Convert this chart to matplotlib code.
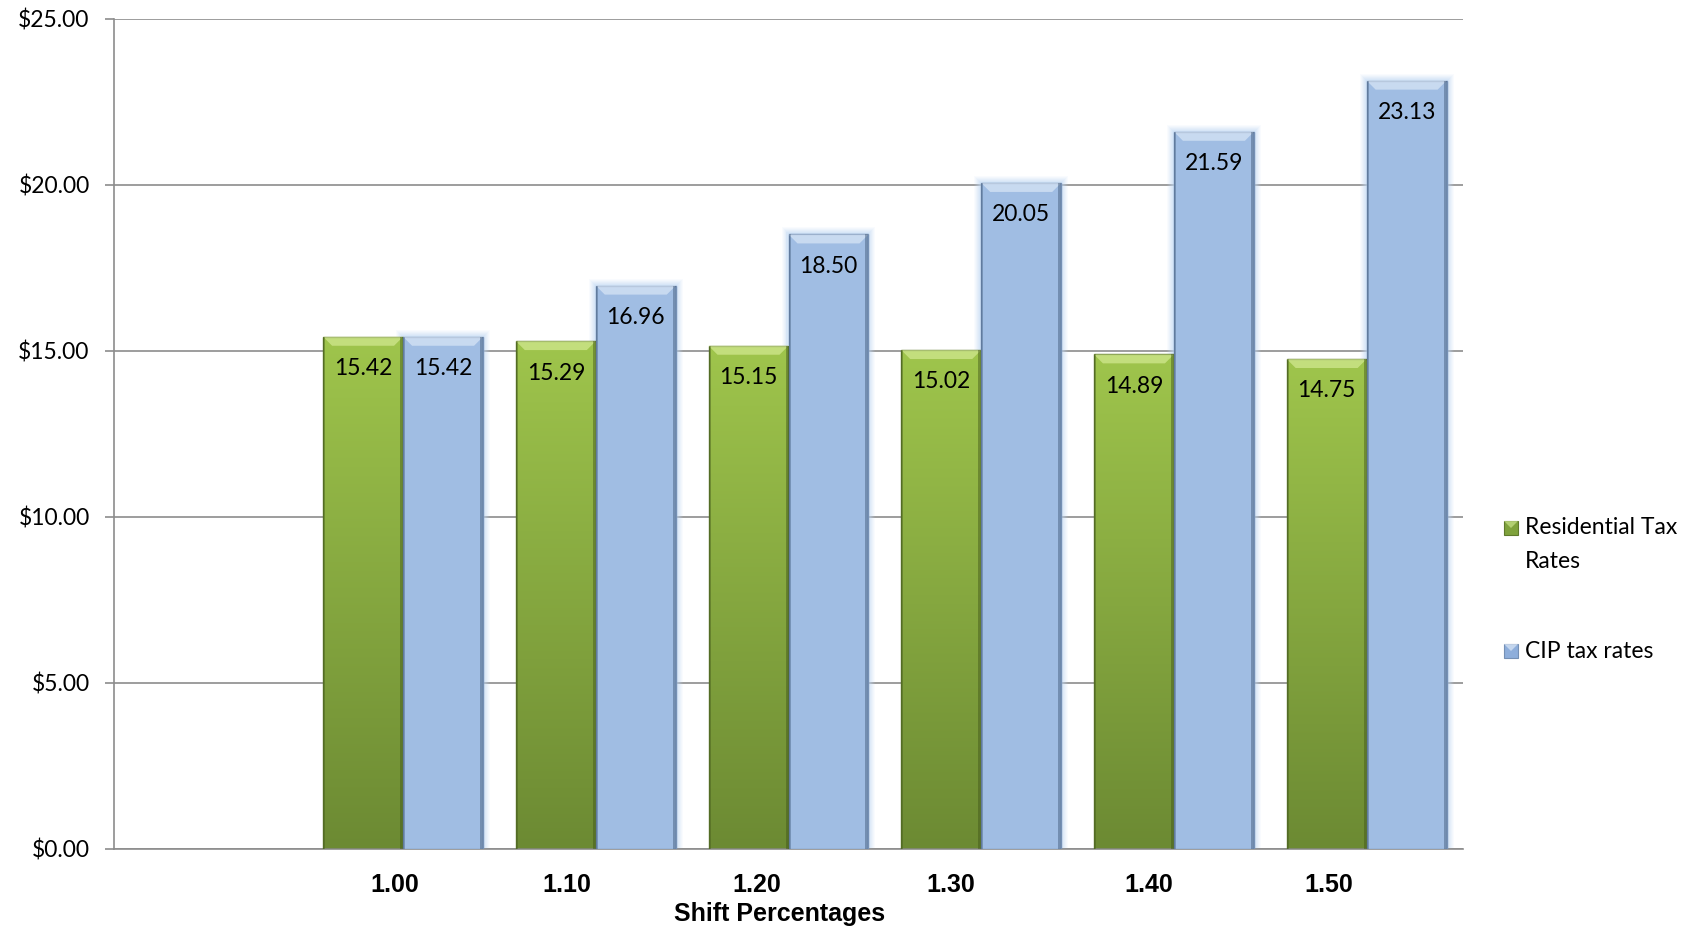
import numpy as np
import matplotlib
matplotlib.use("Agg")
import matplotlib.pyplot as plt
from matplotlib.patches import Rectangle, Polygon
from matplotlib.colors import LinearSegmentedColormap
from matplotlib.transforms import ScaledTranslation

# ---- data -------------------------------------------------------------
categories = ["", "1.00", "1.10", "1.20", "1.30", "1.40", "1.50"]
residential = [np.nan, 15.42, 15.29, 15.15, 15.02, 14.89, 14.75]
cip = [np.nan, 15.42, 16.96, 18.50, 20.05, 21.59, 23.13]
yticks = [0, 5, 10, 15, 20, 25]

GREEN_TOP = "#9FC54C"
GREEN_BOT = "#6C8A33"
GREEN_EDGE = "#5F7A2C"
BLUE = "#A0BDE3"
BLUE_EDGE = "#7590B5"
GLOW = "#BFD8F4"

W, H = 1702, 931
fig = plt.figure(figsize=(W / 100, H / 100), dpi=100)
left, right, bottom, top = 114 / W, 1463 / W, 1 - 849 / H, 1 - 18.5 / H
ax = fig.add_axes([left, bottom, right - left, top - bottom])

x = np.arange(len(categories))
bw = 0.415
xlim = (-0.5, len(categories) - 0.5)
ylim = (0, 25)
ax.set_xlim(*xlim)
ax.set_ylim(*ylim)

# pixel -> data scale, used for the bevel and glow sizes
px_x = (xlim[1] - xlim[0]) / (right - left) / W
px_y = (ylim[1] - ylim[0]) / (top - bottom) / H

green_cmap = LinearSegmentedColormap.from_list("g", [GREEN_BOT, GREEN_TOP])
grad = np.linspace(0, 1, 256).reshape(-1, 1)


def bevel(ax, x0, w, h, light, dark):
    """Lighter sloped band at the top of a bar plus dark side strips."""
    bx, by = 9 * px_x, 9 * px_y
    ax.add_patch(Polygon([(x0, h), (x0 + w, h), (x0 + w - bx, h - by),
                          (x0 + bx, h - by)], closed=True,
                         facecolor=light, edgecolor="none", alpha=0.6, zorder=4))
    ax.add_patch(Rectangle((x0, 0), 2 * px_x, h, facecolor=dark,
                           edgecolor="none", alpha=0.35, zorder=4))
    ax.add_patch(Rectangle((x0 + w - 3 * px_x, 0), 3 * px_x, h, facecolor=dark,
                           edgecolor="none", alpha=0.45, zorder=4))


ax.set_axisbelow(True)
ax.yaxis.grid(True, color="#8C8C8C", linewidth=1.2)

for xi, g, c in zip(x, residential, cip):
    if np.isnan(g):
        continue
    # residential: vertical gradient clipped to the bar
    gx = xi - bw
    rect = Rectangle((gx, 0), bw, g, facecolor="none", edgecolor=GREEN_EDGE,
                     linewidth=1.0, zorder=3)
    ax.add_patch(rect)
    im = ax.imshow(grad, cmap=green_cmap, origin="lower", aspect="auto",
                   extent=[gx, gx + bw, 0, g], zorder=2)
    im.set_clip_path(rect)
    bevel(ax, gx, bw, g, "#DDF0A0", "#3F5418")

    # CIP: flat blue with soft glow around it
    cx = xi
    for k, a in zip(range(7, 0, -1), [0.08, 0.1, 0.12, 0.15, 0.18, 0.22, 0.3]):
        ax.add_patch(Rectangle((cx - k * px_x, 0), bw + 2 * k * px_x,
                               c + k * px_y, facecolor=GLOW, edgecolor="none",
                               alpha=a, zorder=1.5))
    ax.add_patch(Rectangle((cx, 0), bw, c, facecolor=BLUE, edgecolor=BLUE_EDGE,
                           linewidth=1.0, zorder=3))
    bevel(ax, cx, bw, c, "#E4EEFA", "#3E5675")

    for bx_, v in ((gx, g), (cx, c)):
        ax.annotate(f"{v:.2f}", (bx_ + bw / 2, v), xytext=(0, -23),
                    textcoords="offset points", ha="center", va="center",
                    fontsize=16.5, family="Lato", color="black", zorder=6)

ax.set_xticks(x)
ax.set_xticklabels(categories, fontsize=18, fontweight="bold",
                   family="Liberation Sans")
ax.tick_params(axis="x", length=0, pad=17)
# category labels sit a little left of the bar groups
label_shift_pt = [0, -6, -21, -23, -22, -18, -27]
for lab, dx in zip(ax.get_xticklabels(), label_shift_pt):
    lab.set_transform(lab.get_transform()
                      + ScaledTranslation(dx / 72, 0, fig.dpi_scale_trans))

ax.set_yticks(yticks)
ax.set_yticklabels([f"${v:.2f}" for v in yticks], fontsize=16.5, family="Lato")
ax.tick_params(axis="y", length=6.5, width=1.2, color="#8C8C8C", pad=11)
ax.set_xlabel("Shift Percentages", fontsize=18, fontweight="bold",
              family="Liberation Sans", labelpad=4)
ax.xaxis.label.set_transform(ax.xaxis.label.get_transform()
                             + ScaledTranslation(-6.5 / 72, 0, fig.dpi_scale_trans))

for side in ("top", "right"):
    ax.spines[side].set_visible(False)
for side in ("left", "bottom"):
    ax.spines[side].set_color("#8C8C8C")
    ax.spines[side].set_linewidth(1.2)


# legend drawn by hand so the wrapped label sits like the original
def legend_key(fx, fy, face, light, dark):
    s = 14
    fig.add_artist(Rectangle((fx / W, 1 - (fy + s / 2) / H), s / W, s / H,
                             transform=fig.transFigure, facecolor=face,
                             edgecolor=dark, linewidth=0.8))
    fig.add_artist(Polygon([((fx) / W, 1 - (fy - s / 2) / H),
                            ((fx + s) / W, 1 - (fy - s / 2) / H),
                            ((fx + s / 2) / W, 1 - fy / H)], closed=True,
                           transform=fig.transFigure, facecolor=light,
                           edgecolor="none", alpha=0.7))


legend_key(1504, 528, "#7FA23C", "#C9E38A", GREEN_EDGE)
fig.text(1525 / W, 1 - 528 / H, "Residential Tax", fontsize=16.5, family="Lato",
         va="center", ha="left")
fig.text(1525 / W, 1 - 561 / H, "Rates", fontsize=16.5, family="Lato",
         va="center", ha="left")
legend_key(1504, 651, "#8EAEDB", "#DCE8F7", BLUE_EDGE)
fig.text(1525 / W, 1 - 651 / H, "CIP tax rates", fontsize=16.5, family="Lato",
         va="center", ha="left")

fig.savefig("out.png", dpi=100, facecolor="white")
